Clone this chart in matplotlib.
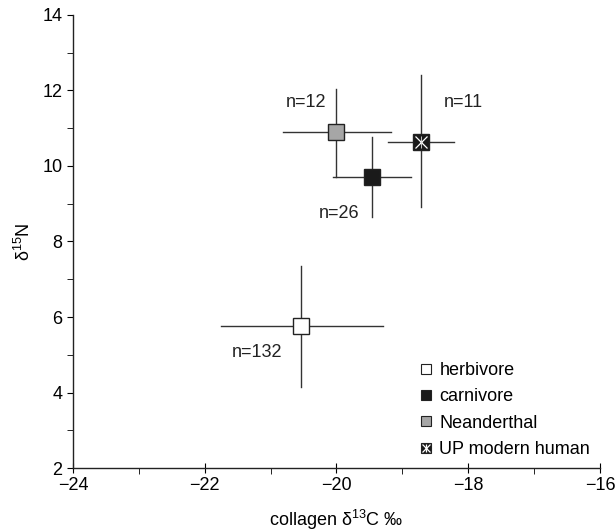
import matplotlib
matplotlib.use("Agg")
import matplotlib.pyplot as plt
from matplotlib.lines import Line2D
from matplotlib.legend_handler import HandlerTuple
import numpy as np

plt.rcParams['font.family'] = ['Liberation Sans', 'DejaVu Sans']
plt.rcParams['mathtext.default'] = 'regular'
plt.rcParams['axes.unicode_minus'] = True

# group means (collagen d13C, d15N) and error bar ends
groups = ['herbivore', 'carnivore', 'Neanderthal', 'UP modern human']
c13 = [-20.54, -19.46, -20.0, -18.72]
n15 = [5.76, 9.71, 10.90, 10.64]
c13_lo = [-21.75, -20.05, -20.81, -19.22]
c13_hi = [-19.30, -18.87, -19.17, -18.22]
n15_lo = [4.15, 8.65, 9.71, 8.91]
n15_hi = [7.35, 10.77, 12.04, 12.41]
counts = ['n=132', 'n=26', 'n=12', 'n=11']
label_x = [-21.21, -19.96, -20.46, -18.07]
label_y = [5.05, 8.75, 11.67, 11.67]
face = ['white', '#1a1a1a', '#a6a6a6', '#1a1a1a']

fs = 13

fig = plt.figure(figsize=(6.16, 5.31), dpi=100)
ax = fig.add_axes([0.1185, 0.1186, 0.8555, 0.8532])

line_col = '#333333'
for i in range(len(groups)):
    ax.plot([c13_lo[i], c13_hi[i]], [n15[i], n15[i]], color=line_col, lw=1.0, zorder=2)
    ax.plot([c13[i], c13[i]], [n15_lo[i], n15_hi[i]], color=line_col, lw=1.0, zorder=2)

handles = []
for i in range(len(groups)):
    ax.plot(c13[i], n15[i], 's', ms=11.5, mfc=face[i], mec='#222222', mew=1.0, zorder=3)
    if groups[i] == 'UP modern human':
        ax.plot(c13[i], n15[i], 'x', ms=8, mec='white', mew=0.9, zorder=4)
        ax.plot(c13[i], n15[i], '|', ms=8, mec='#dddddd', mew=0.6, zorder=4)
        handles.append((Line2D([], [], marker='s', ls='', ms=7.5, mfc=face[i], mec='#222222', mew=0.8),
                        Line2D([], [], marker='x', ls='', ms=5.5, mec='white', mew=0.9),
                        Line2D([], [], marker='|', ls='', ms=5.5, mec='white', mew=0.9)))
    else:
        handles.append(Line2D([], [], marker='s', ls='', ms=7.5, mfc=face[i], mec='#222222', mew=0.8))

for i in range(len(groups)):
    ax.text(label_x[i], label_y[i], counts[i], ha='center', va='center', fontsize=fs, color='#222222')

ax.set_xlim(-24, -16)
ax.set_ylim(2, 14)
ax.set_xticks([-24, -22, -20, -18, -16])
ax.set_xticks([-23, -21, -19, -17], minor=True)
ax.set_yticks([2, 4, 6, 8, 10, 12, 14])
ax.set_yticks([3, 5, 7, 9, 11, 13], minor=True)
ax.spines['top'].set_visible(False)
ax.spines['right'].set_visible(False)
for s in ['left', 'bottom']:
    ax.spines[s].set_linewidth(1.0)
    ax.spines[s].set_color('#222222')
ax.tick_params(axis='x', which='major', direction='inout', length=7, labelsize=fs, pad=3)
ax.tick_params(axis='x', which='minor', direction='out', length=4)
ax.tick_params(axis='y', which='both', direction='out', length=4, labelsize=fs)

ax.set_xlabel('collagen δ$^{13}$C ‰', fontsize=fs, labelpad=10)
ax.set_ylabel('δ$^{15}$N', fontsize=fs, labelpad=6)

ax.legend(handles, groups, loc='lower right', frameon=False, fontsize=fs,
          handler_map={tuple: HandlerTuple(ndivide=1)},
          handlelength=0.7, handletextpad=0.4, labelspacing=0.52,
          bbox_to_anchor=(1.0, 0.0), borderaxespad=0.15)

fig.savefig('out.png', dpi=100)
